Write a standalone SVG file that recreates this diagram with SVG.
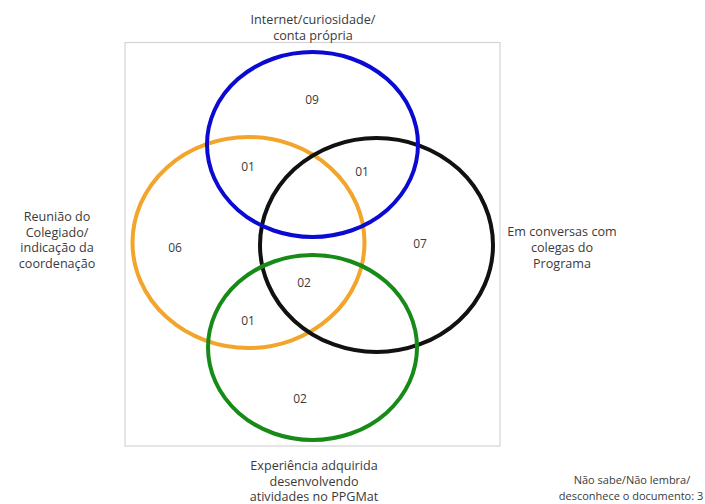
<svg xmlns="http://www.w3.org/2000/svg" width="705" height="504" viewBox="0 0 705 504">
<style>
text{font-family:"Open Sans","Noto Sans","DejaVu Sans",sans-serif;fill:#3a3a3a;text-anchor:middle}
.lbl{font-size:12.6px}
.num{font-size:12px}
.ring{fill:none;stroke-width:4}
</style>
<rect width="705" height="504" fill="#fff"/>
<rect id="frame" x="125" y="42.5" width="375" height="403.5" fill="#fff" stroke="#d4d4d4" stroke-width="1.2"/>
<g id="orange"><ellipse class="ring" cx="248.5" cy="242.5" rx="116" ry="105.5" stroke="#f2a52a"/></g>
<g id="black"><ellipse class="ring" cx="376.5" cy="245" rx="116.5" ry="107" stroke="#111"/></g>
<g id="blue"><ellipse class="ring" cx="312.5" cy="144.5" rx="105.5" ry="92.5" stroke="#0a0ad2"/></g>
<g id="green"><ellipse class="ring" cx="312.5" cy="347.5" rx="104.5" ry="92.5" stroke="#178a17"/></g>
<g id="numbers" class="num">
<text x="312" y="103.5">09</text>
<text x="248" y="170.5">01</text>
<text x="362" y="175.5">01</text>
<text x="175" y="251.5">06</text>
<text x="420" y="247.5">07</text>
<text x="304" y="286.5">02</text>
<text x="248" y="324.5">01</text>
<text x="300" y="402.5">02</text>
</g>
<g id="label-top" class="lbl">
<text x="313" y="24">Internet/curiosidade/</text>
<text x="313" y="40">conta própria</text>
</g>
<g id="label-left" class="lbl">
<text x="57" y="221">Reunião do</text>
<text x="57" y="236.5">Colegiado/</text>
<text x="57" y="252">indicação da</text>
<text x="57" y="267.5">coordenação</text>
</g>
<g id="label-right" class="lbl">
<text x="562" y="236">Em conversas com</text>
<text x="562" y="252">colegas do</text>
<text x="562" y="268">Programa</text>
</g>
<g id="label-bottom" class="lbl">
<text x="314" y="470">Experiência adquirida</text>
<text x="314" y="485.5">desenvolvendo</text>
<text x="314" y="501">atividades no PPGMat</text>
</g>
<g id="label-none" class="lbl" style="font-size:11px">
<text x="632" y="484">Não sabe/Não lembra/</text>
<text x="631" y="499.5">desconhece o documento: 3</text>
</g>
</svg>
